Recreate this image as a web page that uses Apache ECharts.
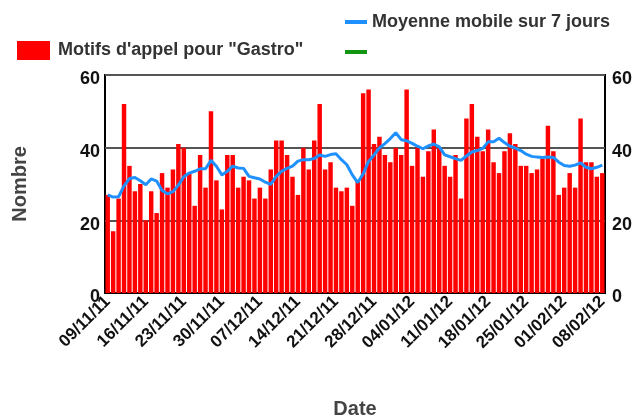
<!DOCTYPE html>
<html>
<head>
<meta charset="utf-8">
<script src="https://cdn.jsdelivr.net/npm/echarts@6/dist/echarts.min.js"></script>
<style>
html,body{margin:0;padding:0;background:#fff;}
#main{width:639px;height:418px;}
</style>
</head>
<body>
<div id="main"></div>
<script>
// donnees
var startDate = [2011, 10, 9]; // 09/11/11
var nbJours = 92;
var yTicks = [0, 20, 40, 60];
var appels = [27,17,26,52,35,28,30,20,28,22,33,29,34,41,40,33,24,38,29,50,
              31,23,38,38,29,32,31,26,29,26,34,42,42,38,32,27,40,34,42,52,
              34,36,29,28,29,24,31,55,56,41,43,38,36,40,38,56,35,40,32,39,
              45,40,35,32,38,26,48,52,43,39,45,36,33,39,44,41,35,35,33,34,
              37,46,39,27,29,33,29,48,36,36,32,33];
var moyenne = [27.0,26.4,26.5,29.5,31.5,31.8,30.9,29.8,31.4,30.8,28.2,27.3,27.9,29.7,32.0,33.0,33.5,34.2,34.2,36.5,
               34.9,32.5,33.5,34.9,34.4,34.3,32.1,31.7,31.4,30.5,29.9,32.1,33.5,34.3,34.9,36.3,36.7,36.7,37.0,38.0,
               37.6,38.1,38.3,36.7,35.3,32.5,30.4,32.8,36.2,38.0,39.9,41.1,42.5,44.1,42.2,41.9,41.2,40.4,39.7,40.5,
               41.0,40.2,38.0,37.5,37.0,36.5,37.7,38.8,39.2,39.8,41.6,41.6,42.6,41.4,40.4,39.9,39.2,38.2,37.6,37.4,
               37.3,37.4,37.3,36.0,35.1,34.9,35.2,35.8,34.6,34.2,34.6,35.2];
var vide = [];

// libelles des dates jj/mm/aa
function pad(n){ return (n < 10 ? '0' : '') + n; }
var dates = [];
for (var i = 0; i < nbJours; i++) {
    var d = new Date(startDate[0], startDate[1], startDate[2] + i);
    dates.push(pad(d.getDate()) + '/' + pad(d.getMonth() + 1) + '/' + pad(d.getFullYear() % 100));
}

var police = "'Liberation Sans', Arial, sans-serif";
var myChart = echarts.init(document.getElementById('main'));

var axeY = function (pos) {
    return {
        type: 'value',
        position: pos,
        min: yTicks[0],
        max: yTicks[yTicks.length - 1],
        interval: 20,
        name: pos == 'left' ? 'Nombre' : '',
        nameLocation: 'middle',
        nameGap: 75,
        nameTextStyle: {fontFamily: police, fontSize: 20, fontWeight: 'bold', color: '#444'},
        axisLine: {show: false},
        axisTick: {show: false},
        axisLabel: {fontFamily: police, fontSize: 18, fontWeight: 'bold', color: '#111',
                    margin: pos == 'left' ? 5 : 7, verticalAlign: 'top', lineHeight: 9},
        splitLine: {show: pos == 'left', lineStyle: {color: '#555', width: 2}}
    };
};

var option = {
    animation: false,
    backgroundColor: '#fff',
    grid: {
        left: 105, right: 34, top: 75, bottom: 125,
        containLabel: false, outerBoundsMode: 'none',
        show: true, borderColor: '#000', borderWidth: 2
    },
    legend: [{
        data: ['Motifs d\'appel pour "Gastro"'],
        left: 17, top: 41, padding: 0,
        itemWidth: 33, itemHeight: 19,
        icon: 'rect',
        textStyle: {fontFamily: police, fontSize: 18, fontWeight: 'bold', color: '#333', padding: [0, 0, 0, 3]}
    }, {
        data: ['Moyenne mobile sur 7 jours', ' '],
        orient: 'vertical',
        left: 345, top: 13, padding: 0,
        itemWidth: 22, itemHeight: 4, itemGap: 12,
        icon: 'rect',
        textStyle: {fontFamily: police, fontSize: 18, fontWeight: 'bold', color: '#333'}
    }],
    xAxis: {
        type: 'category',
        data: dates,
        boundaryGap: true,
        name: 'Date',
        nameLocation: 'middle',
        nameGap: 106,
        nameTextStyle: {fontFamily: police, fontSize: 20, fontWeight: 'bold', color: '#444'},
        axisLine: {lineStyle: {color: '#000', width: 2}},
        axisTick: {interval: 6, alignWithLabel: true, length: 5, lineStyle: {color: '#000', width: 2}},
        axisLabel: {interval: 6, rotate: 45, margin: 6, fontFamily: police, fontSize: 17, fontWeight: 'bold', color: '#111'},
        splitLine: {show: false}
    },
    yAxis: [axeY('left'), axeY('right')],
    series: [{
        name: 'Motifs d\'appel pour "Gastro"',
        type: 'bar',
        data: appels,
        barCategoryGap: '18%',
        itemStyle: {color: '#ff0000'}
    }, {
        name: 'Moyenne mobile sur 7 jours',
        type: 'line',
        data: moyenne,
        showSymbol: false,
        lineStyle: {color: '#1e90ff', width: 3},
        itemStyle: {color: '#1e90ff'}
    }, {
        name: ' ',
        type: 'line',
        data: vide,
        showSymbol: false,
        lineStyle: {color: '#129612', width: 3},
        itemStyle: {color: '#129612'}
    }]
};
myChart.setOption(option);
</script>
</body>
</html>
